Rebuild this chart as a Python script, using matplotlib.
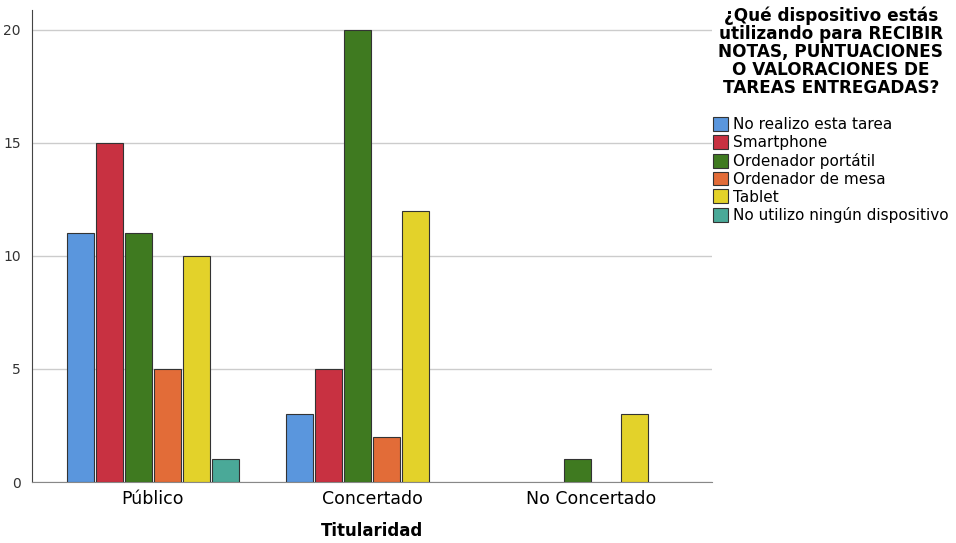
import numpy as np
import matplotlib.pyplot as plt

categorias = ['Público', 'Concertado', 'No Concertado']
dispositivos = ['No realizo esta tarea', 'Smartphone', 'Ordenador portátil',
                'Ordenador de mesa', 'Tablet', 'No utilizo ningún dispositivo']
colores = ['#5a96dd', '#c83141', '#3f7a20', '#e26c38', '#e3d22a', '#4aa998']

# recuentos por dispositivo (Público, Concertado, No Concertado)
no_realizo = [11, 3, 0]
smartphone = [15, 5, 0]
portatil = [11, 20, 1]
sobremesa = [5, 2, 0]
tablet = [10, 12, 3]
ninguno = [1, 0, 0]
series = [no_realizo, smartphone, portatil, sobremesa, tablet, ninguno]

fig = plt.figure(figsize=(9.56, 5.43), dpi=100)
ax = fig.add_axes([0.0335, 0.1123, 0.7115, 0.8693])

x = np.arange(len(categorias))
paso = 0.132
ancho = 0.123
for i, (vals, col, lab) in enumerate(zip(series, colores, dispositivos)):
    pos = x + (i - 2.5) * paso
    vals = np.array(vals)
    m = vals > 0
    ax.bar(pos[m], vals[m], width=ancho, color=col, edgecolor='#333333',
           linewidth=0.8, label=lab, zorder=3)

ax.set_xlim(-0.55, 2.55)
ax.set_ylim(0, 20.88)
ax.set_yticks([0, 5, 10, 15, 20])
ax.set_xticks(x)
ax.set_xticklabels(categorias, fontsize=12.5)
ax.tick_params(axis='y', labelsize=10, labelcolor='#333333', length=0, pad=8)
ax.tick_params(axis='x', length=0, pad=6)
ax.yaxis.grid(True, color='#cccccc', linewidth=1)
ax.set_axisbelow(True)
for s in ['top', 'right']:
    ax.spines[s].set_visible(False)
ax.spines['left'].set_color('#444444')
ax.spines['bottom'].set_color('#888888')
ax.set_xlabel('Titularidad', fontsize=12, fontweight='bold', labelpad=10)

fig.text(0.869, 0.988, '¿Qué dispositivo estás\nutilizando para RECIBIR\nNOTAS, PUNTUACIONES\n'
         'O VALORACIONES DE\nTAREAS ENTREGADAS?', ha='center', va='top',
         fontsize=12.2, fontweight='bold', linespacing=1.0)
ax.legend(loc='upper left', bbox_to_anchor=(0.746, 0.784), bbox_transform=fig.transFigure,
          frameon=False, fontsize=11, handlelength=1.0, handleheight=1.0,
          handletextpad=0.3, labelspacing=0.18, borderaxespad=0, borderpad=0)

fig.savefig('out.png', dpi=100)
